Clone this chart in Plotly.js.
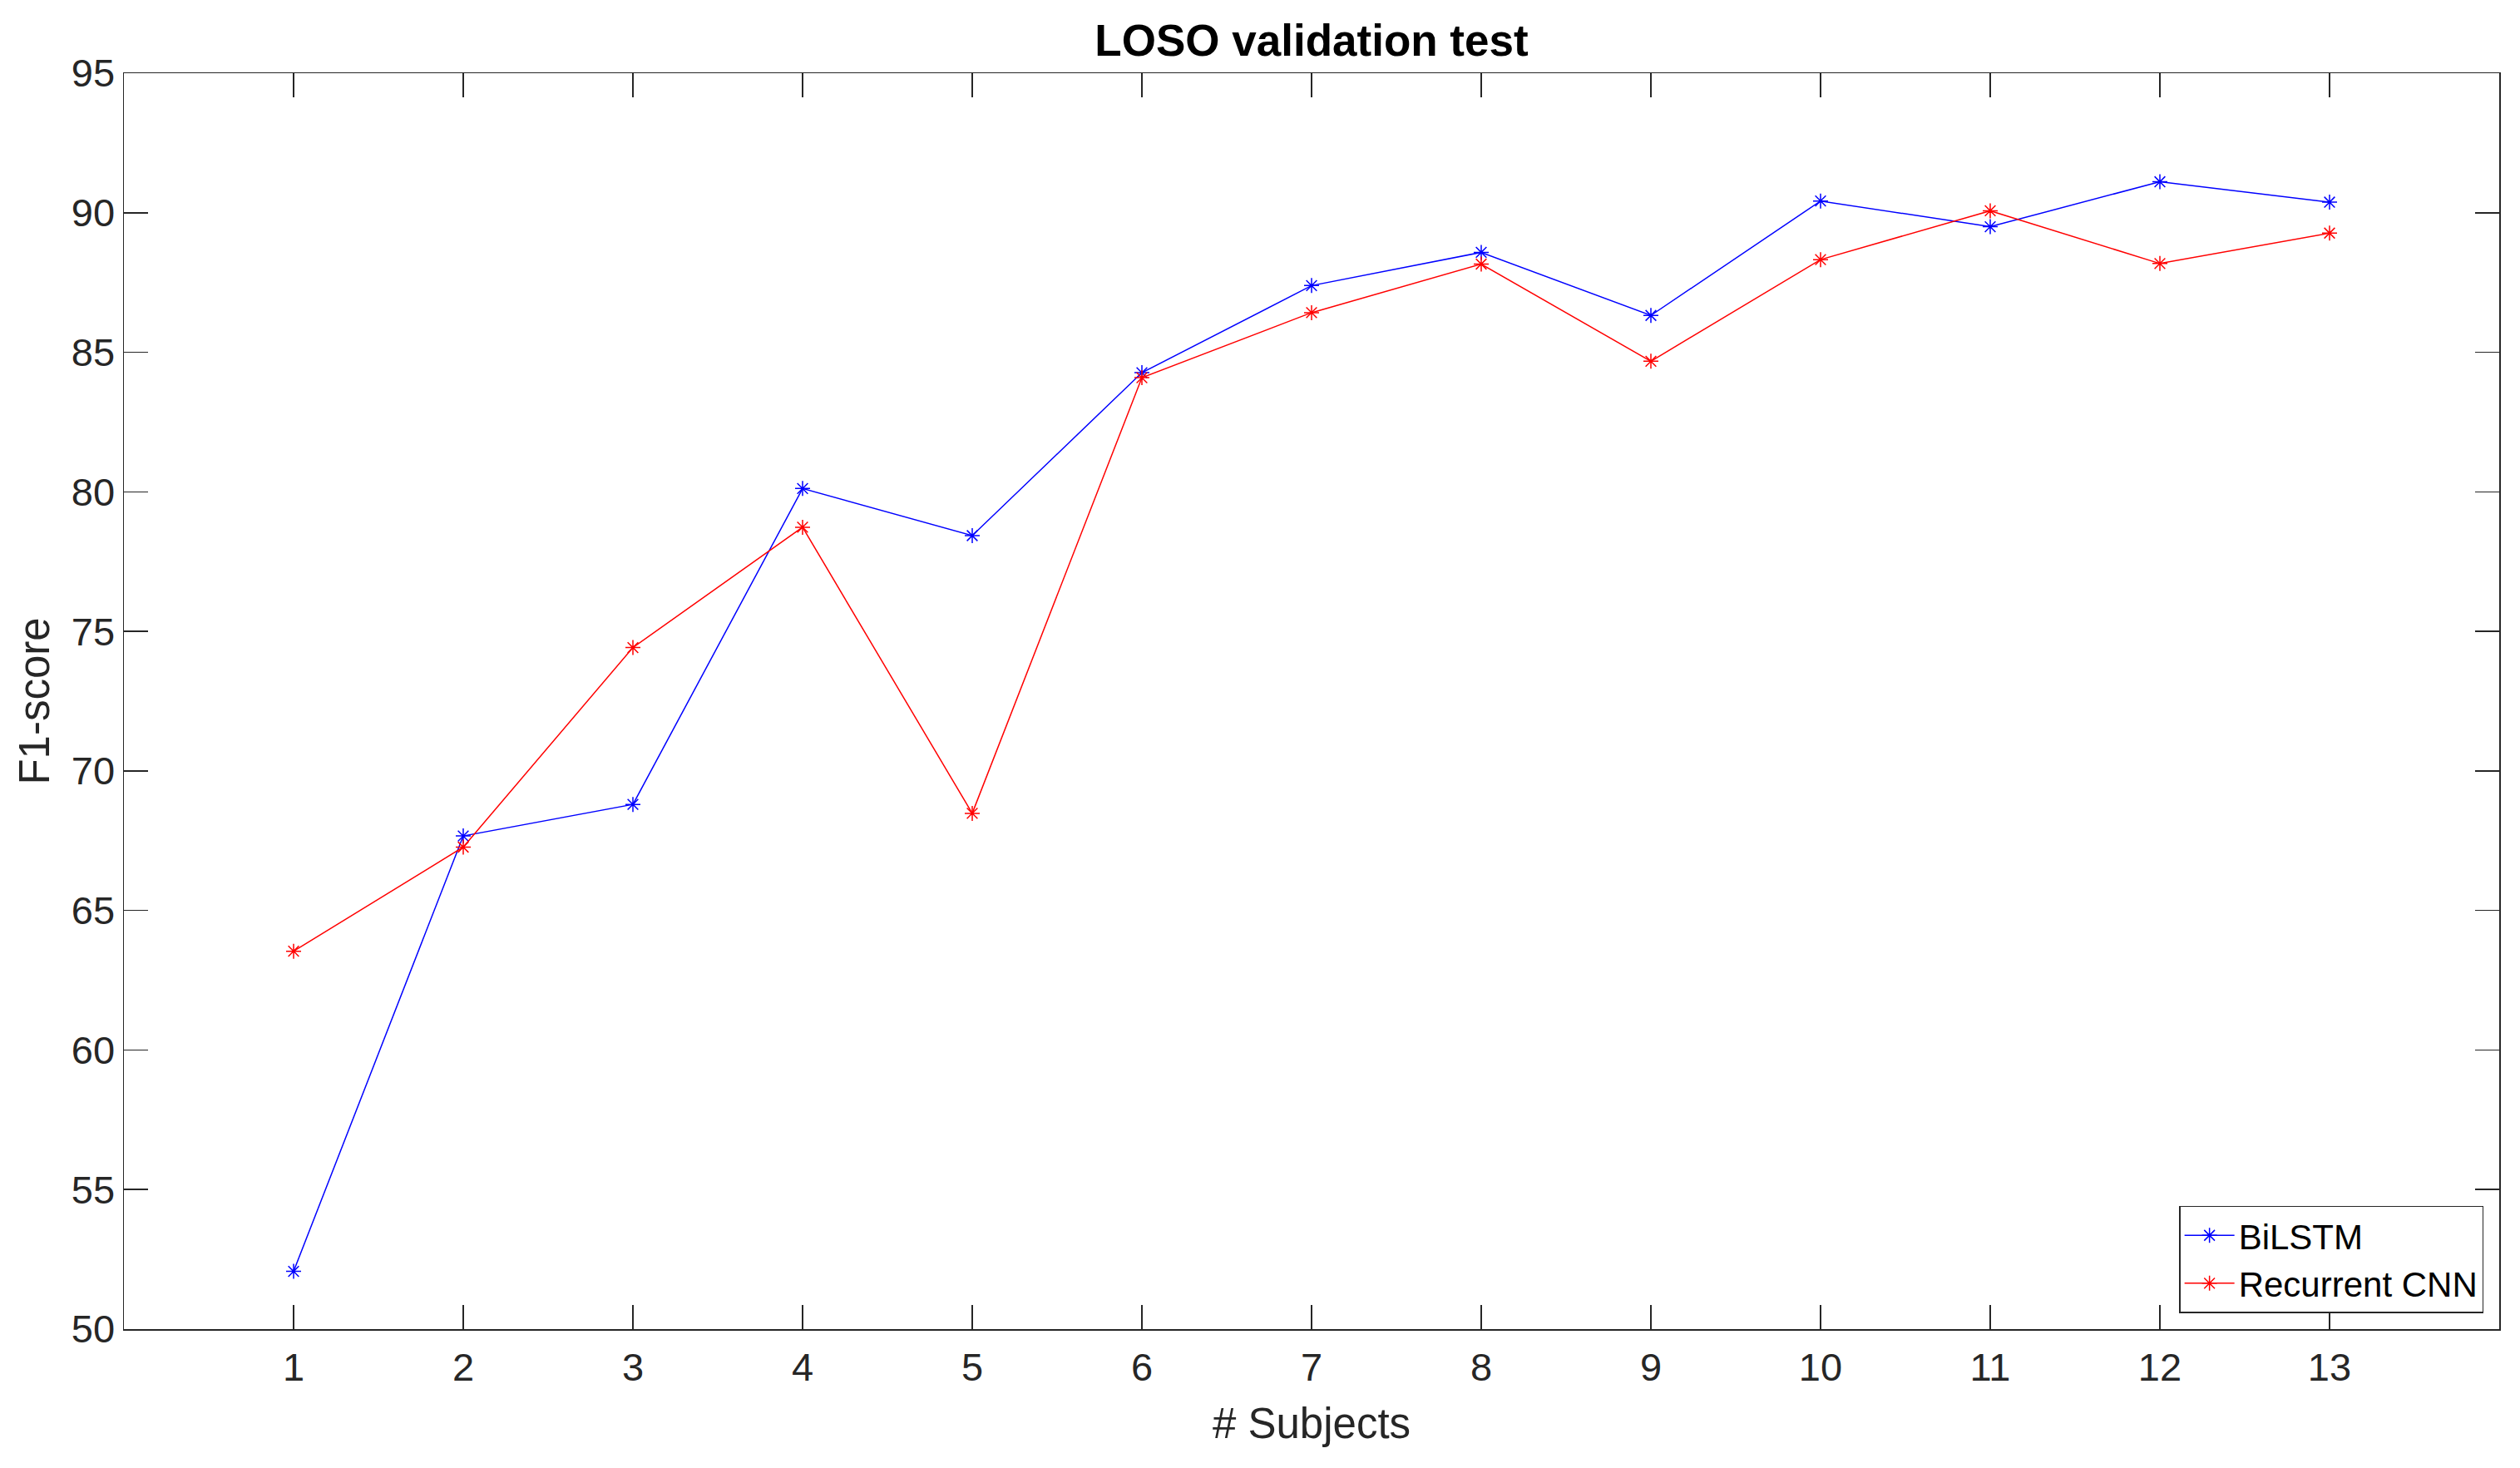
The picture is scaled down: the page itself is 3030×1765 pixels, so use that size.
<!DOCTYPE html>
<html>
<head>
<meta charset="utf-8">
<script src="https://cdn.plot.ly/plotly-3.0.1.min.js"></script>
<style>
  html, body { margin: 0; padding: 0; background: #fff; }
  #chart { width: 3030px; height: 1765px; }
</style>
</head>
<body>
<div id="chart"></div>
<script>
// F1-scores per left-out subject
const subjects = [1, 2, 3, 4, 5, 6, 7, 8, 9, 10, 11, 12, 13];
const bilstm = [52.07, 67.67, 68.8, 80.12, 78.43, 84.27, 87.39, 88.58, 86.32, 90.42, 89.5, 91.11, 90.38];
const rcnn = [63.54, 67.27, 74.42, 78.73, 68.48, 84.09, 86.42, 88.16, 84.68, 88.32, 90.07, 88.18, 89.27];
const yTicks = [50, 55, 60, 65, 70, 75, 80, 85, 90, 95];

const FONT = 'Liberation Sans, Arial, Helvetica, sans-serif';
const AXIS = '#262626';

function series(name, y, color) {
  return {
    x: subjects,
    y: y,
    name: name,
    type: 'scatter',
    mode: 'lines+markers',
    line: { color: color, width: 1.5 },
    marker: { symbol: 'asterisk-open', size: 15, color: color, line: { color: color, width: 1.5 } }
  };
}

const traces = [
  series('BiLSTM', bilstm, '#0000ff'),
  series('Recurrent CNN', rcnn, '#ff0000')
];

const axisBase = {
  showgrid: false,
  zeroline: false,
  showline: true,
  linecolor: AXIS,
  linewidth: 1.5,
  mirror: 'ticks',
  ticks: 'inside',
  ticklen: 29,
  tickwidth: 1.5,
  tickcolor: AXIS,
  tickfont: { family: FONT, size: 47, color: AXIS }
};

const layout = {
  width: 3030,
  height: 1765,
  margin: { l: 149, r: 25, t: 88, b: 167 },
  paper_bgcolor: '#ffffff',
  plot_bgcolor: '#ffffff',
  showlegend: true,
  title: {
    text: '<b>LOSO validation test</b>',
    font: { family: FONT, size: 53, color: '#000000' },
    x: 0.5,
    xref: 'paper',
    y: 1 - 48 / 1765,
    yref: 'container',
    yanchor: 'middle'
  },
  xaxis: Object.assign({}, axisBase, {
    range: [0, 14],
    tickvals: subjects,
    ticktext: subjects.map(String),
    ticklabelstandoff: 4,
    title: { text: '# Subjects', font: { family: FONT, size: 51, color: AXIS }, standoff: 24 }
  }),
  yaxis: Object.assign({}, axisBase, {
    range: [50, 95],
    tickvals: yTicks,
    ticktext: yTicks.map(String),
    title: { text: 'F1-score', font: { family: FONT, size: 51, color: AXIS }, standoff: 10 }
  }),
  legend: {
    x: 0.9934,
    y: 0.0126,
    xanchor: 'right',
    yanchor: 'bottom',
    bgcolor: '#ffffff',
    bordercolor: AXIS,
    borderwidth: 1.5,
    font: { family: FONT, size: 42, color: '#000000' },
    itemwidth: 60,
    tracegroupgap: 0
  }
};

Plotly.newPlot('chart', traces, layout, { staticPlot: true });
</script>
</body>
</html>
